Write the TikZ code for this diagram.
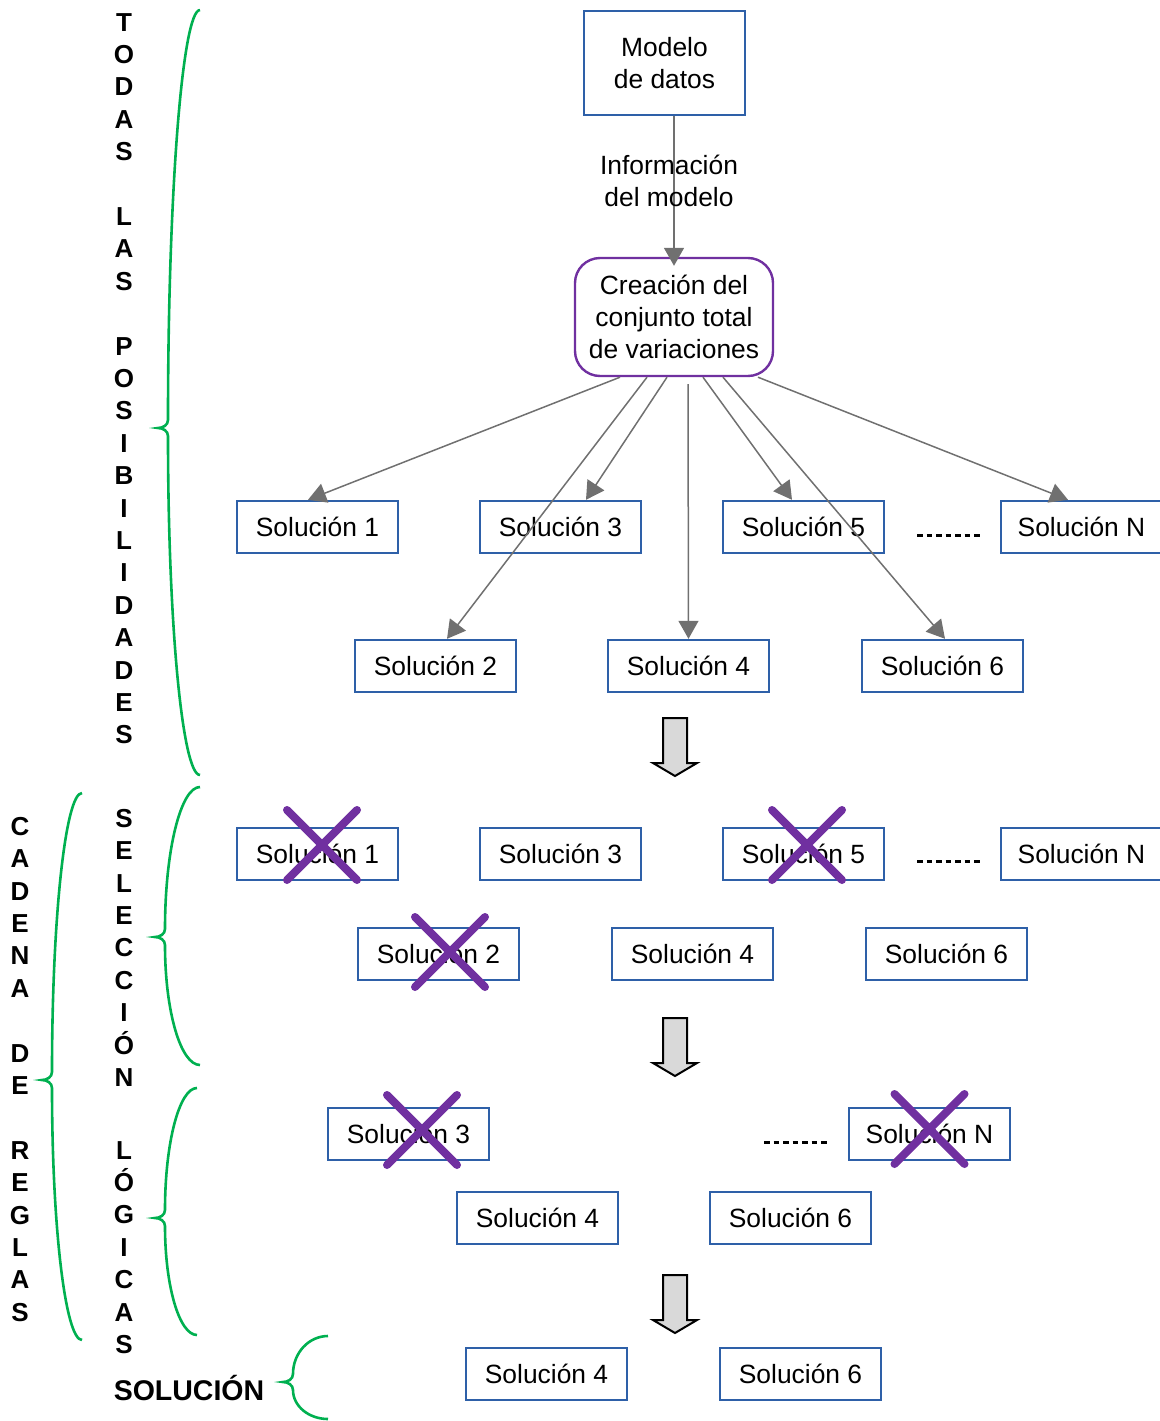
\documentclass[tikz,border=0pt]{standalone}
\usepackage{fontspec}
\setmainfont{Liberation Sans}
\usetikzlibrary{arrows.meta,calc}
\definecolor{azulcaja}{RGB}{46,96,168}
\definecolor{moradocaja}{RGB}{112,48,160}
\definecolor{verdellave}{RGB}{0,176,80}
\definecolor{grisflecha}{RGB}{112,112,112}
\tikzset{
  sol/.style={draw=azulcaja, line width=2.4pt, minimum width=161pt, minimum height=52pt, inner sep=0pt, font=\fontsize{26.4}{32}\selectfont},
  letras/.style={align=center, inner sep=0pt, font=\fontsize{26}{32.4}\selectfont\bfseries},
  flecha/.style={draw=grisflecha, line width=1.5pt, -{Triangle[length=18pt,width=20pt]}},
  llaveverde/.style={draw=verdellave, line width=2.6pt},
  cruz/.style={draw=moradocaja, line width=8pt, line cap=round},
  puntos/.style={line width=3pt, dash pattern=on 5.5pt off 4pt},
  bloque/.style={draw=black, line width=2pt, fill=black!15, line join=miter}
}
% llave: x derecha, y arriba, y abajo, x linea, y punta
\newcommand{\llave}[5]{%
  \draw[llaveverde] (#1,#2) arc[start angle=90, end angle=180, x radius={(#1-#4)*1pt}, y radius={(#5-#2-8)*1pt}]
    to[out=-90,in=0] ({#4-10},#5) to[out=0,in=90] (#4,{#5+8})
    arc[start angle=180, end angle=270, x radius={(#1-#4)*1pt}, y radius={(#3-#5-8)*1pt}];}
\newcommand{\tacha}[3]{%
  \draw[cruz] ($(#1)+(#2-35,#3-35)$) -- ($(#1)+(#2+35,#3+35)$)
    ($(#1)+(#2+35,#3-35)$) -- ($(#1)+(#2-35,#3+35)$);}

\begin{document}
\begin{tikzpicture}[x=1pt, y=-1pt]
\useasboundingbox (0,0) rectangle (1159,1421);

\node[letras, anchor=north] (todas) at (124,13) {T\\O\\D\\A\\S\\~\\L\\A\\S\\~\\P\\O\\S\\I\\B\\I\\L\\I\\D\\A\\D\\E\\S};
\node[letras, anchor=north] (cadena) at (20,817) {C\\A\\D\\E\\N\\A\\~\\D\\E\\~\\R\\E\\G\\L\\A\\S};
\node[letras, anchor=north] (selec) at (124,809) {S\\E\\L\\E\\C\\C\\I\\Ó\\N};
\node[letras, anchor=north] (logicas) at (124,1141) {L\\Ó\\G\\I\\C\\A\\S};
\node[letras, font=\fontsize{28.5}{32}\selectfont\bfseries] (solucion) at (189,1388) {SOLUCIÓN};

\llave{200}{10}{775}{168}{428}
\llave{82}{793}{1340}{52}{1080}
\llave{200}{787}{1065}{165}{937}
\llave{197}{1088}{1335}{165}{1218}
\llave{328}{1336}{1419}{293}{1382}

\node[sol, minimum height=104pt, align=center] (modelo) at (664.5,63) {Modelo\\de datos};
\node[sol, draw=moradocaja, minimum width=198pt, minimum height=118pt, rounded corners=25pt, align=center] (crea) at (674,317) {Creación del\\conjunto total\\de variaciones};
\draw[flecha] ($(modelo.south)+(9.5,0)$) -- ($(crea.north)+(0,9)$)
  node[pos=0.43, font=\fontsize{26.4}{32}\selectfont, align=center, xshift=-5pt] (info) {Información\\del modelo};

\node[sol] (s1) at (317.5,527) {Solución 1};
\node[sol] (s3) at (560.5,527) {Solución 3};
\node[sol] (s5) at (803.5,527) {Solución 5};
\node[sol] (sN) at (1081.5,527) {Solución N};
\node[sol] (s2) at (435.5,666) {Solución 2};
\node[sol] (s4) at (688.5,666) {Solución 4};
\node[sol] (s6) at (942.5,666) {Solución 6};
\draw[puntos] (917,535) -- (982,535);

\draw[flecha] ($(crea.south)+(-54,0)$) -- ($(s1.north)+(-9.5,0)$);
\draw[flecha] ($(crea.south)+(-27,0)$) -- ($(s2.north)+(11.5,0)$);
\draw[flecha] ($(crea.south)+(-7,0)$) -- ($(s3.north)+(25.5,0)$);
\draw[flecha] ($(crea.south)+(14,7)$) -- (s4.north);
\draw[flecha] ($(crea.south)+(29,0)$) -- ($(s5.north)+(-11.5,0)$);
\draw[flecha] ($(crea.south)+(49,0)$) -- ($(s6.north)+(2.5,0)$);
\draw[flecha] ($(crea.south)+(84,0)$) -- ($(sN.north)+(-13.5,0)$);

\foreach \y in {718,1018,1275}
  \draw[bloque] (663,\y) -- (687,\y) -- (687,\y+45) -- (697,\y+45) -- (675,\y+58) -- (653,\y+45) -- (663,\y+45) -- cycle;

\node[sol] (c1) at (317.5,854) {Solución 1};
\node[sol] (c3) at (560.5,854) {Solución 3};
\node[sol] (c5) at (803.5,854) {Solución 5};
\node[sol] (cN) at (1081.5,854) {Solución N};
\node[sol] (c2) at (438.5,954) {Solución 2};
\node[sol] (c4) at (692.5,954) {Solución 4};
\node[sol] (c6) at (946.5,954) {Solución 6};
\draw[puntos] (917,861) -- (982,861);
\tacha{c1}{4.5}{-9}
\tacha{c5}{3.5}{-9}
\tacha{c2}{11.5}{-2}

\node[sol] (l3) at (408.5,1134) {Solución 3};
\node[sol] (lN) at (929.5,1134) {Solución N};
\node[sol] (l4) at (537.5,1218) {Solución 4};
\node[sol] (l6) at (790.5,1218) {Solución 6};
\draw[puntos] (764,1142) -- (830,1142);
\tacha{l3}{13.5}{-4}
\tacha{lN}{0}{-5}

\node[sol] (f4) at (546.5,1374) {Solución 4};
\node[sol] (f6) at (800.5,1374) {Solución 6};
\end{tikzpicture}
\end{document}
